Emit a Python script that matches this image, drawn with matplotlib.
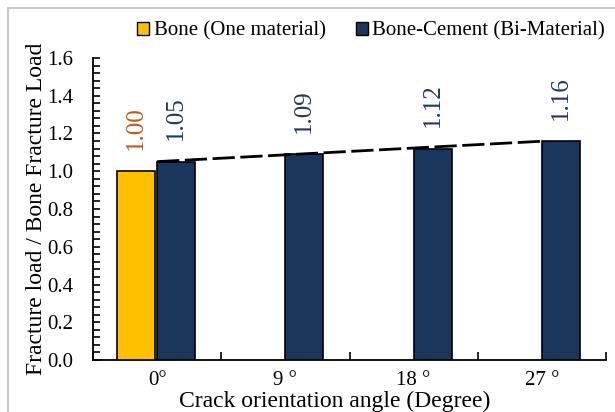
import matplotlib
matplotlib.use("Agg")
import matplotlib.pyplot as plt
import numpy as np
from matplotlib.patches import Rectangle, Patch
from matplotlib.ticker import MultipleLocator

plt.rcParams['font.family'] = ['Liberation Serif', 'DejaVu Serif']

categories = ['0°', '9 °', '18 °', '27 °']
bone_values = [1.00]
bicement_values = [1.05, 1.09, 1.12, 1.16]
bone_label = 'Bone (One material)'
bicement_label = 'Bone-Cement (Bi-Material)'

yellow = '#FFC000'
navy = '#1B365D'
brown = '#C55A11'
navy_txt = '#1F3864'

fig = plt.figure(figsize=(6.15, 4.12), dpi=100)
ax = fig.add_axes([93/615, 1-360/412, (606-93)/615, (360-58)/412])

x = np.arange(len(categories))
w = 0.295
b1 = ax.bar(x[:len(bone_values)] - 0.165, bone_values, width=w, color=yellow,
            edgecolor='black', linewidth=1.2, zorder=3)
b2 = ax.bar(x + 0.148, bicement_values, width=w, color=navy,
            edgecolor='black', linewidth=1.2, zorder=3)

for rect, v in zip(b1, bone_values):
    ax.annotate(f'{v:.2f}', (rect.get_x() + rect.get_width()/2, v),
                xytext=(0, 15.5), textcoords='offset points', rotation=90,
                ha='center', va='bottom', color=brown, fontsize=18)
for rect, v in zip(b2, bicement_values):
    ax.annotate(f'{v:.2f}', (rect.get_x() + rect.get_width()/2, v),
                xytext=(0, 15.5), textcoords='offset points', rotation=90,
                ha='center', va='bottom', color=navy_txt, fontsize=18)

# linear trend of bi-material series
coef = np.polyfit(x, bicement_values, 1)
xt = np.array([x[0], x[-1]])
ax.plot(xt, np.polyval(coef, xt), color='black', lw=2, ls=(0, (8, 2)), zorder=4)

ax.set_xlim(-0.5, len(categories) - 0.5)
ax.set_ylim(0, 1.6)
ax.yaxis.set_major_locator(MultipleLocator(0.2))
ax.yaxis.set_minor_locator(MultipleLocator(0.04))
ax.set_yticklabels([f'{t:.1f}' for t in ax.get_yticks()])
ax.set_xticks(x)
ax.set_xticklabels(categories)
ax.set_xticks(np.arange(-0.5, len(categories)), minor=True)
ax.tick_params(axis='x', which='major', length=0, labelsize=15, pad=8)
ax.tick_params(axis='x', which='minor', direction='in', length=6, width=1.2)
ax.tick_params(axis='y', which='both', direction='in', length=5, width=1.2,
               labelsize=15, pad=14)
for s in ['top', 'right']:
    ax.spines[s].set_visible(False)
for s in ['left', 'bottom']:
    ax.spines[s].set_linewidth(1.3)

ax.set_xlabel('Crack orientation angle (Degree)', fontsize=17)
ax.xaxis.set_label_coords((335-93)/513, -(401-360)/302)
ax.xaxis.label.set_va('center')
ax.set_ylabel('Fracture load / Bone Fracture Load', fontsize=17, labelpad=0)

handles = [Patch(facecolor=yellow, edgecolor='black'),
           Patch(facecolor=navy, edgecolor='black')]
fig.legend(handles, [bone_label, bicement_label], loc='center',
           bbox_to_anchor=(371/615, 1-31/412), ncol=2, frameon=False,
           fontsize=15, handlelength=0.6, handleheight=0.6, handletextpad=0.2,
           columnspacing=1.45)

fig.patches.append(Rectangle((8/615, -0.1), 1.0, 1.1 - 8/412,
                             transform=fig.transFigure, fill=False,
                             edgecolor='#BFBFBF', linewidth=1.2))

fig.savefig('out.png', dpi=100)
